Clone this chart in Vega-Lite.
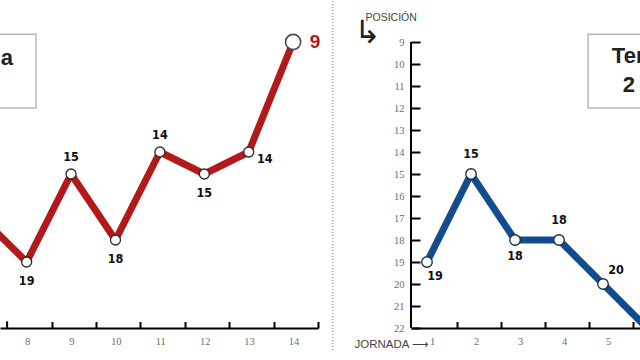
{
  "$schema": "https://vega.github.io/schema/vega-lite/v6.json",
  "background": "white",
  "padding": 0,
  "bounds": "flush",
  "spacing": 93,
  "config": {
    "view": {"stroke": null},
    "axis": {"grid": false},
    "axisX": {"labelExpr": "'' + floor(datum.value)", "labelOffset": -24.5, "labelFlush": false, "labelOverlap": false, "tickSize": -6.5, "tickWidth": 2, "tickColor": "black", "domainColor": "black", "domainWidth": 2, "labelPadding": 14.5, "labelFont": "Liberation Serif", "labelFontSize": 10.5, "labelColor": "#6e6e6e"},
    "axisY": {"tickSize": -9, "tickWidth": 2, "tickColor": "black", "domain": false, "labelPadding": 16, "labelFont": "Liberation Serif", "labelFontSize": 10.5, "labelColor": "#6e6e6e", "labelFlush": false, "labelOverlap": false}
  },
  "datasets": {
    "izquierda": [
      {"jornada": 7, "posicion": 17},
      {"jornada": 8, "posicion": 19},
      {"jornada": 9, "posicion": 15},
      {"jornada": 10, "posicion": 18},
      {"jornada": 11, "posicion": 14},
      {"jornada": 12, "posicion": 15},
      {"jornada": 13, "posicion": 14},
      {"jornada": 14, "posicion": 9}
    ],
    "derecha": [
      {"jornada": 1, "posicion": 19},
      {"jornada": 2, "posicion": 15},
      {"jornada": 3, "posicion": 18},
      {"jornada": 4, "posicion": 18},
      {"jornada": 5, "posicion": 20},
      {"jornada": 6, "posicion": 22}
    ]
  },
  "hconcat": [
    {
      "width": 318,
      "height": 297,
      "layer": [
        {
          "data": {"values": [{"texto": "a"}]},
          "mark": {"type": "rect", "fill": "white", "stroke": "#b8b8b8", "strokeWidth": 1.5, "clip": true},
          "encoding": {
            "x": {"datum": 6, "type": "quantitative", "scale": {"domain": [7.4, 14.56], "nice": false, "zero": false},
              "axis": {"values": [8.56, 9.56, 10.56, 11.56, 12.56, 13.56, 14.56], "title": null, "labelOverlap": false}},
            "x2": {"datum": 8.21},
            "y": {"datum": 8.65, "type": "quantitative", "scale": {"domain": [8.5, 22], "reverse": true, "nice": false, "zero": false}, "axis": null},
            "y2": {"datum": 12.0}
          }
        },
        {
          "data": {"values": [{"texto": "a"}]},
          "mark": {"type": "text", "align": "right", "baseline": "middle", "fontSize": 22, "fontWeight": "bold", "font": "Liberation Sans", "color": "#222", "clip": true},
          "encoding": {
            "x": {"datum": 7.69, "type": "quantitative"},
            "y": {"datum": 9.73, "type": "quantitative", "axis": null},
            "text": {"field": "texto"}
          }
        },
        {
          "data": {"values": [{}]},
          "mark": {"type": "rule", "stroke": "#a0a0a0", "strokeWidth": 1.5, "strokeDash": [1, 2]},
          "encoding": {
            "x": {"datum": 14.89, "type": "quantitative"},
            "y": {"datum": 7.136, "type": "quantitative", "axis": null},
            "y2": {"datum": 23.0}
          }
        },
        {
          "data": {"values": [{}]},
          "mark": {"type": "rule", "stroke": "black", "strokeWidth": 2},
          "encoding": {
            "x": {"datum": 7.56, "type": "quantitative"},
            "y": {"datum": 22, "type": "quantitative", "axis": null},
            "y2": {"datum": 21.7}
          }
        },
        {
          "data": {"name": "izquierda"},
          "mark": {"type": "line", "color": "#b2191b", "strokeWidth": 7, "strokeJoin": "round", "clip": true},
          "encoding": {
            "x": {"field": "jornada", "type": "quantitative"},
            "y": {"field": "posicion", "type": "quantitative", "axis": null}
          }
        },
        {
          "data": {"name": "izquierda"},
          "transform": [{"filter": "datum.jornada >= 8 && datum.jornada <= 13"}],
          "mark": {"type": "point", "shape": "circle", "filled": true, "fill": "white", "stroke": "#3a2424", "strokeWidth": 1.3, "size": 100, "opacity": 1},
          "encoding": {
            "x": {"field": "jornada", "type": "quantitative"},
            "y": {"field": "posicion", "type": "quantitative", "axis": null}
          }
        },
        {
          "data": {"name": "izquierda"},
          "transform": [{"filter": "datum.jornada == 14"}],
          "mark": {"type": "point", "shape": "circle", "filled": true, "fill": "white", "stroke": "#4a4a4a", "strokeWidth": 1.6, "size": 230, "opacity": 1},
          "encoding": {
            "x": {"field": "jornada", "type": "quantitative"},
            "y": {"field": "posicion", "type": "quantitative", "axis": null}
          }
        },
        {
          "data": {"name": "izquierda"},
          "transform": [{"filter": {"field": "jornada", "oneOf": [8, 10, 12]}}],
          "mark": {"type": "text", "dy": 19, "baseline": "middle", "fontSize": 12.5, "fontWeight": "bold", "font": "Liberation Sans Narrow, DejaVu Sans Condensed, Liberation Sans", "color": "#111"},
          "encoding": {
            "x": {"field": "jornada", "type": "quantitative"},
            "y": {"field": "posicion", "type": "quantitative", "axis": null},
            "text": {"field": "posicion"}
          }
        },
        {
          "data": {"name": "izquierda"},
          "transform": [{"filter": {"field": "jornada", "oneOf": [9, 11]}}],
          "mark": {"type": "text", "dy": -17, "baseline": "middle", "fontSize": 12.5, "fontWeight": "bold", "font": "Liberation Sans Narrow, DejaVu Sans Condensed, Liberation Sans", "color": "#111"},
          "encoding": {
            "x": {"field": "jornada", "type": "quantitative"},
            "y": {"field": "posicion", "type": "quantitative", "axis": null},
            "text": {"field": "posicion"}
          }
        },
        {
          "data": {"name": "izquierda"},
          "transform": [{"filter": "datum.jornada == 13"}],
          "mark": {"type": "text", "dx": 16, "dy": 7, "baseline": "middle", "fontSize": 12.5, "fontWeight": "bold", "font": "Liberation Sans Narrow, DejaVu Sans Condensed, Liberation Sans", "color": "#111"},
          "encoding": {
            "x": {"field": "jornada", "type": "quantitative"},
            "y": {"field": "posicion", "type": "quantitative", "axis": null},
            "text": {"field": "posicion"}
          }
        },
        {
          "data": {"name": "izquierda"},
          "transform": [{"filter": "datum.jornada == 14"}],
          "mark": {"type": "text", "dx": 22, "baseline": "middle", "fontSize": 19, "fontWeight": "bold", "font": "Liberation Sans", "color": "#b2191b"},
          "encoding": {
            "x": {"field": "jornada", "type": "quantitative"},
            "y": {"field": "posicion", "type": "quantitative", "axis": null},
            "text": {"field": "posicion"}
          }
        }
      ]
    },
    {
      "width": 229,
      "height": 297,
      "layer": [
        {
          "data": {"values": [{}]},
          "mark": {"type": "rect", "fill": "white", "stroke": "#b8b8b8", "strokeWidth": 1.5, "clip": true},
          "encoding": {
            "x": {"datum": 4.66, "type": "quantitative", "scale": {"domain": [0.636, 5.84], "nice": false, "zero": false},
              "axis": {"values": [1.67, 2.67, 3.67, 4.67, 5.67], "labelOverlap": false,
                "title": "JORNADA ⟶", "titleX": 17, "titleY": 16, "titleAlign": "right", "titleBaseline": "middle", "titleFontSize": 11.5, "titleFontWeight": "normal", "titleColor": "#444", "titleFont": "Liberation Sans, DejaVu Sans"}},
            "x2": {"datum": 8},
            "y": {"datum": 8.65, "type": "quantitative", "scale": {"domain": [8.5, 22], "reverse": true, "nice": false, "zero": false},
              "axis": {"values": [9, 10, 11, 12, 13, 14, 15, 16, 17, 18, 19, 20, 21, 22], "labelOverlap": false, "tickCount": 14,
                "title": "POSICIÓN", "titleAngle": 0, "titleX": -46, "titleY": -14, "titleAlign": "left", "titleBaseline": "middle", "titleFontSize": 10.5, "titleFontWeight": "normal", "titleColor": "#444", "titleFont": "Liberation Sans"}},
            "y2": {"datum": 12.0}
          }
        },
        {
          "data": {"values": [{"texto": "Ter"}]},
          "mark": {"type": "text", "align": "left", "baseline": "middle", "fontSize": 22, "fontWeight": "bold", "font": "Liberation Sans", "color": "#222", "clip": true},
          "encoding": {
            "x": {"datum": 5.2, "type": "quantitative"},
            "y": {"datum": 9.64, "type": "quantitative"},
            "text": {"field": "texto"}
          }
        },
        {
          "data": {"values": [{"texto": "2"}]},
          "mark": {"type": "text", "align": "left", "baseline": "middle", "fontSize": 22, "fontWeight": "bold", "font": "Liberation Sans", "color": "#222", "clip": true},
          "encoding": {
            "x": {"datum": 5.45, "type": "quantitative"},
            "y": {"datum": 10.95, "type": "quantitative"},
            "text": {"field": "texto"}
          }
        },
        {
          "data": {"values": [{"texto": "↳"}]},
          "mark": {"type": "text", "align": "left", "baseline": "middle", "fontSize": 32, "font": "DejaVu Sans", "color": "#222"},
          "encoding": {
            "x": {"datum": -0.66, "type": "quantitative"},
            "y": {"datum": 8.6, "type": "quantitative"},
            "text": {"field": "texto"}
          }
        },
        {
          "data": {"values": [{}]},
          "mark": {"type": "rule", "stroke": "black", "strokeWidth": 2},
          "encoding": {
            "x": {"datum": 0.636, "type": "quantitative"},
            "y": {"datum": 9, "type": "quantitative"},
            "y2": {"datum": 22}
          }
        },
        {
          "data": {"name": "derecha"},
          "mark": {"type": "line", "color": "#124c8e", "strokeWidth": 7, "strokeJoin": "round", "clip": true},
          "encoding": {
            "x": {"field": "jornada", "type": "quantitative"},
            "y": {"field": "posicion", "type": "quantitative"}
          }
        },
        {
          "data": {"name": "derecha"},
          "transform": [{"filter": "datum.jornada <= 5"}],
          "mark": {"type": "point", "shape": "circle", "filled": true, "fill": "white", "stroke": "#1b2a3c", "strokeWidth": 1.3, "size": 110, "opacity": 1},
          "encoding": {
            "x": {"field": "jornada", "type": "quantitative"},
            "y": {"field": "posicion", "type": "quantitative"}
          }
        },
        {
          "data": {"name": "derecha"},
          "transform": [{"filter": "datum.jornada == 1"}],
          "mark": {"type": "text", "dx": 8, "dy": 14, "baseline": "middle", "fontSize": 12.5, "fontWeight": "bold", "font": "Liberation Sans Narrow, DejaVu Sans Condensed, Liberation Sans", "color": "#111"},
          "encoding": {
            "x": {"field": "jornada", "type": "quantitative"},
            "y": {"field": "posicion", "type": "quantitative"},
            "text": {"field": "posicion"}
          }
        },
        {
          "data": {"name": "derecha"},
          "transform": [{"filter": {"field": "jornada", "oneOf": [2, 4]}}],
          "mark": {"type": "text", "dy": -20, "baseline": "middle", "fontSize": 12.5, "fontWeight": "bold", "font": "Liberation Sans Narrow, DejaVu Sans Condensed, Liberation Sans", "color": "#111"},
          "encoding": {
            "x": {"field": "jornada", "type": "quantitative"},
            "y": {"field": "posicion", "type": "quantitative"},
            "text": {"field": "posicion"}
          }
        },
        {
          "data": {"name": "derecha"},
          "transform": [{"filter": "datum.jornada == 3"}],
          "mark": {"type": "text", "dy": 16, "baseline": "middle", "fontSize": 12.5, "fontWeight": "bold", "font": "Liberation Sans Narrow, DejaVu Sans Condensed, Liberation Sans", "color": "#111"},
          "encoding": {
            "x": {"field": "jornada", "type": "quantitative"},
            "y": {"field": "posicion", "type": "quantitative"},
            "text": {"field": "posicion"}
          }
        },
        {
          "data": {"name": "derecha"},
          "transform": [{"filter": "datum.jornada == 5"}],
          "mark": {"type": "text", "dx": 13, "dy": -14, "baseline": "middle", "fontSize": 12.5, "fontWeight": "bold", "font": "Liberation Sans Narrow, DejaVu Sans Condensed, Liberation Sans", "color": "#111"},
          "encoding": {
            "x": {"field": "jornada", "type": "quantitative"},
            "y": {"field": "posicion", "type": "quantitative"},
            "text": {"field": "posicion"}
          }
        }
      ]
    }
  ]
}
